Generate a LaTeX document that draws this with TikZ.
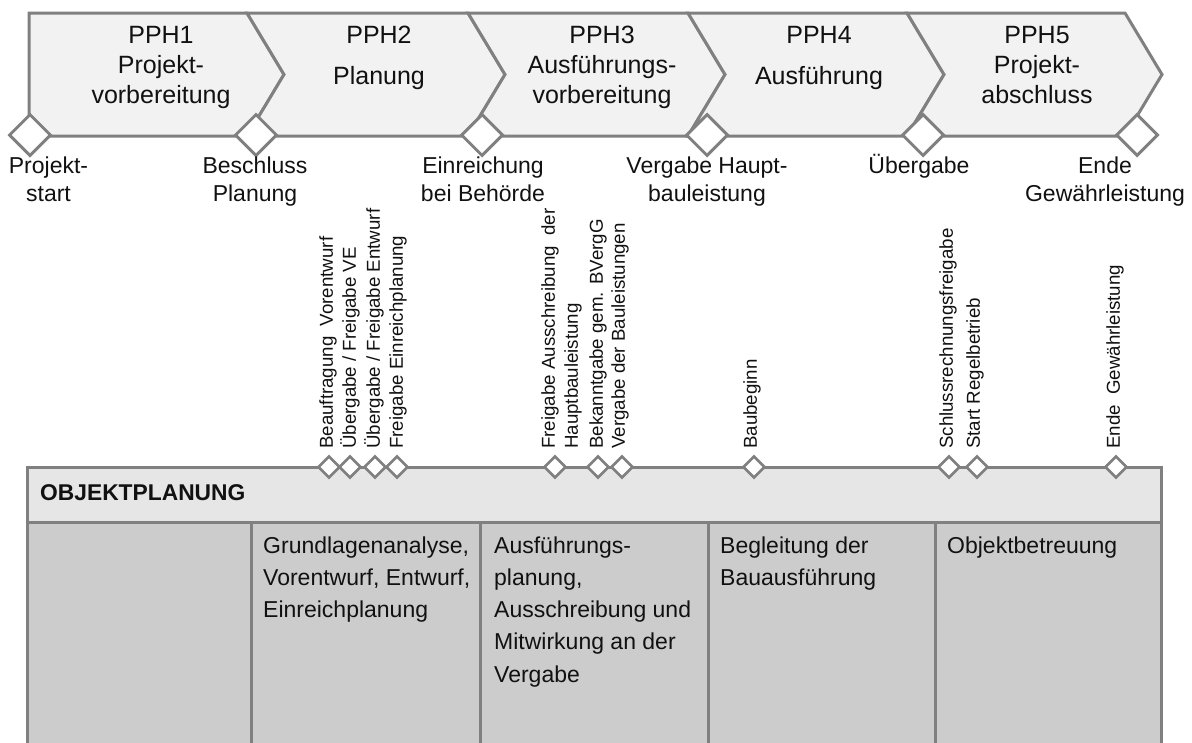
\documentclass[tikz,border=0pt]{standalone}
\usepackage{fontspec}
\setmainfont{Liberation Sans}
\usetikzlibrary{shapes.geometric}
\definecolor{lineg}{HTML}{808080}
\definecolor{chevf}{HTML}{F2F2F2}
\definecolor{headf}{HTML}{E6E6E6}
\definecolor{bodyf}{HTML}{CCCCCC}
\definecolor{txt}{HTML}{111111}
\begin{document}
\begin{tikzpicture}[x=1pt,y=-1pt,
  chev/.style={fill=chevf,draw=lineg,line width=3pt,line join=miter},
  bigms/.style={diamond,draw=lineg,line width=3pt,fill=white,minimum width=42pt,minimum height=42pt,inner sep=0pt},
  smallms/.style={diamond,draw=lineg,line width=2.6pt,fill=white,minimum width=22pt,minimum height=22pt,inner sep=0pt},
  phasetxt/.style={anchor=base,align=center,inner sep=0pt,text=txt,font=\fontsize{25}{30}\selectfont},
  mstxt/.style={anchor=base,align=center,inner sep=0pt,text=txt,font=\fontsize{23}{28}\selectfont},
  vtxt/.style={rotate=90,anchor=west,align=left,inner sep=0pt,text=txt,font=\fontsize{18.7}{23}\selectfont},
  coltxt/.style={anchor=base west,align=left,inner sep=0pt,text=txt,font=\fontsize{23}{32.3}\selectfont},
  lanebox/.style={draw=lineg,line width=3pt}
]
\useasboundingbox (0,0) rectangle (1192,742);
\clip (0,0) rectangle (1192,742);

% chevrons
\path[chev] (29,13) -- (247,13) -- (284,74.5) -- (247,136) -- (29,136) -- cycle;
\path[chev] (247,13) -- (468,13) -- (505,74.5) -- (468,136) -- (247,136) -- (284,74.5) -- cycle;
\path[chev] (468,13) -- (688,13) -- (725,74.5) -- (688,136) -- (468,136) -- (505,74.5) -- cycle;
\path[chev] (688,13) -- (907,13) -- (944,74.5) -- (907,136) -- (688,136) -- (725,74.5) -- cycle;
\path[chev] (907,13) -- (1125,13) -- (1162,74.5) -- (1125,136) -- (907,136) -- (944,74.5) -- cycle;

% (base anchor of a multi-line node = baseline of its last line)
\node[phasetxt] (p1) at (161,103) {PPH1\\Projekt-\\vorbereitung};
\node[phasetxt] (p2) at (379,84) {PPH2\\[11pt]Planung};
\node[phasetxt] (p3) at (602,103) {PPH3\\Ausführungs-\\vorbereitung};
\node[phasetxt] (p4) at (819,84) {PPH4\\[11pt]Ausführung};
\node[phasetxt] (p5) at (1037,103) {PPH5\\Projekt-\\abschluss};

% big milestones
\node[bigms] (m1) at (30,135) {};
\node[bigms] (m2) at (256,135) {};
\node[bigms] (m3) at (482,135) {};
\node[bigms] (m4) at (707,135) {};
\node[bigms] (m5) at (923,135) {};
\node[bigms] (m6) at (1137,135) {};

\node[mstxt] (l1) at (48.5,201) {Projekt-\\start};
\node[mstxt] (l2) at (255,201) {Beschluss\\Planung};
\node[mstxt] (l3) at (483,201) {Einreichung\\bei Behörde};
\node[mstxt] (l4) at (707,201) {Vergabe Haupt-\\bauleistung};
\node[mstxt] (l5) at (919,173) {Übergabe};
\node[mstxt] (l6) at (1105,201) {Ende\\Gewährleistung};

% lane
\fill[bodyf] (27,522) rectangle (1161,760);
\fill[headf] (27,467) rectangle (1161,522);
\draw[lanebox] (27,760) -- (27,467) -- (1161,467) -- (1161,760);
\draw[lanebox] (27,522) -- (1161,522);
\draw[lanebox] (251,522) -- (251,760);
\draw[lanebox] (480,522) -- (480,760);
\draw[lanebox] (708,522) -- (708,760);
\draw[lanebox] (935,522) -- (935,760);

\node[anchor=base west,inner sep=0pt,text=txt,font=\bfseries\fontsize{22.8}{27}\selectfont] (lane) at (40,500) {OBJEKTPLANUNG};

\node[coltxt] (c2) at (263,617.6) {Grundlagenanalyse,\\Vorentwurf, Entwurf,\\Einreichplanung};
\node[coltxt] (c3) at (494,682.2) {Ausführungs-\\planung,\\Ausschreibung und\\Mitwirkung an der\\Vergabe};
\node[coltxt] (c4) at (720,585.3) {Begleitung der\\Bauausführung};
\node[coltxt] (c5) at (947,553) {Objektbetreuung};

% small milestones
\node[smallms] (s1) at (329,467) {};
\node[smallms] (s2) at (350,467) {};
\node[smallms] (s3) at (375,467) {};
\node[smallms] (s4) at (397,467) {};
\node[smallms] (s5) at (555,467) {};
\node[smallms] (s6) at (598,467) {};
\node[smallms] (s7) at (622,467) {};
\node[smallms] (s8) at (754,467) {};
\node[smallms] (s9) at (949,467) {};
\node[smallms] (s10) at (977,467) {};
\node[smallms] (s11) at (1116,467) {};

\node[vtxt] (v1) at (328,449) {Beauftragung~ Vorentwurf};
\node[vtxt] (v2) at (350,449) {Übergabe / Freigabe VE};
\node[vtxt] (v3) at (374,449) {Übergabe / Freigabe Entwurf};
\node[vtxt] (v4) at (398,449) {Freigabe Einreichplanung};
\node[vtxt] (v5) at (561.5,449) {Freigabe Ausschreibung~ der\\Hauptbauleistung};
\node[vtxt] (v6) at (598,449) {Bekanntgabe gem. BVergG};
\node[vtxt] (v7) at (620,449) {Vergabe der Bauleistungen};
\node[vtxt] (v8) at (752,449) {Baubeginn};
\node[vtxt] (v9) at (948,449) {Schlussrechnungsfreigabe};
\node[vtxt] (v10) at (975,449) {Start Regelbetrieb};
\node[vtxt] (v11) at (1115,449) {Ende~ Gewährleistung};
\end{tikzpicture}
\end{document}
